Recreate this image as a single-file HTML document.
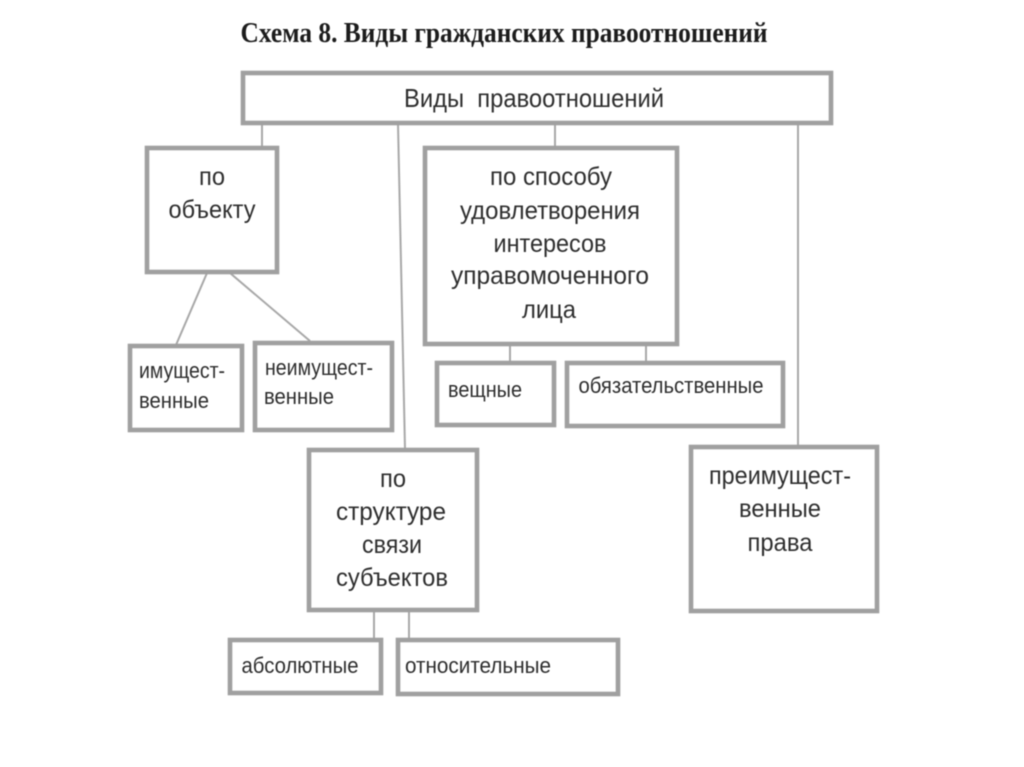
<!DOCTYPE html>
<html lang="ru">
<head>
<meta charset="utf-8">
<style>
html,body{margin:0;padding:0;background:#fff}
svg{display:block;filter:blur(0.45px)}
text{font-family:"Liberation Sans",sans-serif;fill:#2e2e2e;text-anchor:middle;white-space:pre}
.b{fill:#fff;stroke:#a0a0a0;stroke-width:4.6}
.l{stroke:#a8a8a8;stroke-width:2;fill:none}
</style>
</head>
<body>
<svg width="1024" height="767" viewBox="0 0 1024 767" xmlns="http://www.w3.org/2000/svg">
<rect width="1024" height="767" fill="#fff"/>
<text x="504" y="42" style="font-family:'Liberation Serif',serif;font-weight:bold;font-size:29px;fill:#1c1c1c" textLength="527" lengthAdjust="spacingAndGlyphs">Схема 8. Виды гражданских правоотношений</text>

<path class="l" d="M262 124V147M398 124L405 449M555 124V147M798 124V446M207 273L176 345M230 273L310 341M510 345V362M646 345V362M374 611V639M409 611V639"/>

<rect class="b" x="243" y="73" width="588" height="50"/>
<text x="534" y="107" font-size="26" textLength="260" lengthAdjust="spacingAndGlyphs">Виды  правоотношений</text>

<rect class="b" x="147" y="148" width="130" height="124"/>
<text x="212" y="185" font-size="25" textLength="26" lengthAdjust="spacingAndGlyphs">по</text>
<text x="212" y="218" font-size="25" textLength="87" lengthAdjust="spacingAndGlyphs">объекту</text>

<rect class="b" x="425" y="148" width="252" height="196"/>
<text x="551" y="185" font-size="25" textLength="122" lengthAdjust="spacingAndGlyphs">по способу</text>
<text x="550" y="219" font-size="25" textLength="180" lengthAdjust="spacingAndGlyphs">удовлетворения</text>
<text x="550" y="252" font-size="25" textLength="113" lengthAdjust="spacingAndGlyphs">интересов</text>
<text x="550" y="284" font-size="25" textLength="198" lengthAdjust="spacingAndGlyphs">управомоченного</text>
<text x="549" y="318" font-size="25" textLength="54" lengthAdjust="spacingAndGlyphs">лица</text>

<rect class="b" x="130" y="346" width="112" height="84"/>
<text x="182" y="378" font-size="22" textLength="86" lengthAdjust="spacingAndGlyphs">имущест-</text>
<text x="174" y="408" font-size="22" textLength="70" lengthAdjust="spacingAndGlyphs">венные</text>

<rect class="b" x="255" y="343" width="137" height="87"/>
<text x="319" y="375" font-size="22" textLength="108" lengthAdjust="spacingAndGlyphs">неимущест-</text>
<text x="299" y="404" font-size="22" textLength="70" lengthAdjust="spacingAndGlyphs">венные</text>

<rect class="b" x="437" y="363" width="117" height="62"/>
<text x="485" y="397" font-size="22" textLength="74" lengthAdjust="spacingAndGlyphs">вещные</text>

<rect class="b" x="567" y="363" width="216" height="63"/>
<text x="671" y="393" font-size="22" textLength="185" lengthAdjust="spacingAndGlyphs">обязательственные</text>

<rect class="b" x="309" y="450" width="168" height="160"/>
<text x="393" y="487" font-size="25" textLength="26" lengthAdjust="spacingAndGlyphs">по</text>
<text x="391" y="520" font-size="25" textLength="110" lengthAdjust="spacingAndGlyphs">структуре</text>
<text x="392" y="553" font-size="25" textLength="60" lengthAdjust="spacingAndGlyphs">связи</text>
<text x="392" y="586" font-size="25" textLength="112" lengthAdjust="spacingAndGlyphs">субъектов</text>

<rect class="b" x="691" y="447" width="186" height="164"/>
<text x="780" y="484" font-size="25" textLength="142" lengthAdjust="spacingAndGlyphs">преимущест-</text>
<text x="780" y="517" font-size="25" textLength="82" lengthAdjust="spacingAndGlyphs">венные</text>
<text x="780" y="551" font-size="25" textLength="65" lengthAdjust="spacingAndGlyphs">права</text>

<rect class="b" x="230" y="640" width="151" height="53"/>
<text x="300" y="673" font-size="22" textLength="117" lengthAdjust="spacingAndGlyphs">абсолютные</text>

<rect class="b" x="398" y="640" width="220" height="54"/>
<text x="478" y="673" font-size="22" textLength="146" lengthAdjust="spacingAndGlyphs">относительные</text>
</svg>
</body>
</html>
